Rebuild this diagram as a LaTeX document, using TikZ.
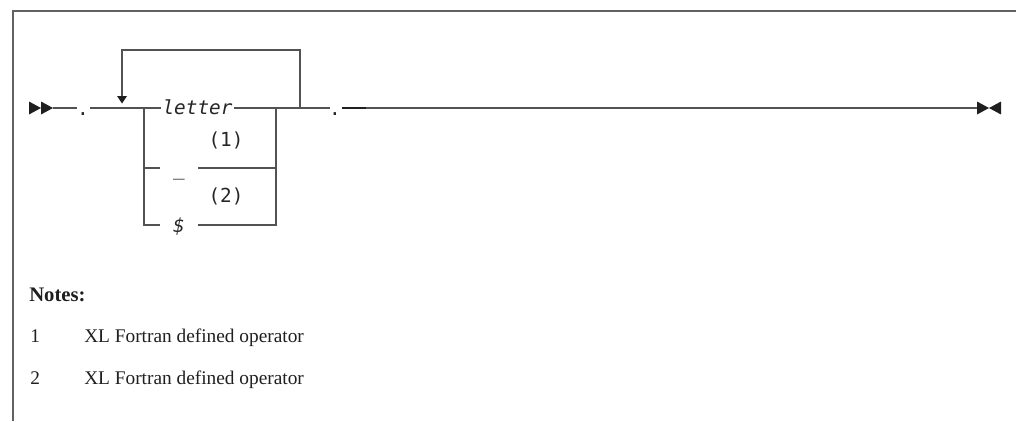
\documentclass[tikz,border=0pt]{standalone}
\usepackage{fontspec}
\newfontfamily\diagfont{DejaVu Sans Mono}
\newfontfamily\notefont{Liberation Serif}
\begin{document}
\begin{tikzpicture}[x=0.75pt,y=-0.75pt,
  rail/.style={draw=black!68, line width=1.1pt},
  heavy/.style={draw=black!88, line width=1.8pt},
  framel/.style={draw=black!62, line width=1.5pt},
  tip/.style={fill=black!88, draw=none},
  dtext/.style={font=\diagfont\fontsize{14.5}{17}\selectfont, text=black!85, inner sep=1pt},
  itext/.style={font=\diagfont\itshape\fontsize{14.5}{17}\selectfont, text=black!85, inner sep=1pt},
  gap/.style={fill=white, inner sep=0pt},
  notetext/.style={font=\notefont\fontsize{14.5}{17}\selectfont, text=black!88, inner sep=0pt, anchor=base west}]
\useasboundingbox (0,0) rectangle (1016,421);
% frame
\coordinate (fb) at (13,421);
\coordinate (fc) at (13,11);
\coordinate (fr) at (1016,11);
\draw[framel] (fb) -- (fc) -- (fr);
% start tips
\coordinate (s0) at (53,108);
\fill[tip] (29,101.5) -- (41,108) -- (29,114.5) -- cycle;
\fill[tip] (41,101.5) -- (53,108) -- (41,114.5) -- cycle;
% first dot
\coordinate (d1l) at (77,108);
\node[dtext, anchor=base] (dot1) at (83,115) {.};
\coordinate (d1r) at (90,108);
\draw[rail] (s0) -- (d1l);
% box coordinates
\coordinate (L1) at (144,108);
\coordinate (R1) at (276,108);
\coordinate (L2) at (144,168);
\coordinate (R2) at (276,168);
\coordinate (L3) at (144,225);
\coordinate (R3) at (276,225);
\draw[rail] (d1r) -- (L1) -- (R1);
\draw[rail] (L1) -- (L3) -- (R3) -- (R1);
\draw[rail] (L2) -- (R2);
% loop back
\coordinate (lpR) at (300,108);
\coordinate (lpRt) at (300,50);
\coordinate (lpLt) at (122,50);
\coordinate (lpL) at (122,96);
\draw[rail] (lpR) -- (lpRt) -- (lpLt) -- (lpL);
\fill[tip] (117,96) -- (127,96) -- (122,103.5) -- cycle;
% texts inside
\node[itext, gap, inner xsep=1pt] (letter) at (197.5,107) {letter};
\node[dtext] (n1) at (226,140) {(1)};
\node[dtext] (n2) at (226,196) {(2)};
\node[gap, minimum width=28pt, minimum height=6pt] (ugap) at (179,168) {};
\node[dtext, anchor=base] (under) at (179,175) {\_};
\node[gap, minimum width=28pt, minimum height=6pt] (dgap) at (179,225) {};
\node[itext, anchor=base] (dollar) at (179,232) {\$};
% after box
\coordinate (d2l) at (330,108);
\node[dtext, anchor=base] (dot2) at (335,115) {.};
\coordinate (d2r) at (342,108);
\coordinate (hv) at (366,108);
\coordinate (e0) at (977,108);
\draw[rail] (R1) -- (d2l);
\draw[heavy] (d2r) -- (hv);
\draw[rail] (hv) -- (e0);
\fill[tip] (977,101.5) -- (989,108) -- (977,114.5) -- cycle;
\fill[tip] (1001,101.5) -- (989,108) -- (1001,114.5) -- cycle;
% notes
\node[notetext, font=\notefont\bfseries\fontsize{15.5}{18}\selectfont] (notes) at (29,301) {Notes:};
\node[notetext] (k1) at (30,342) {1};
\node[notetext] (t1) at (84,342) {XL Fortran defined operator};
\node[notetext] (k2) at (30,384) {2};
\node[notetext] (t2) at (84,384) {XL Fortran defined operator};
\end{tikzpicture}
\end{document}
